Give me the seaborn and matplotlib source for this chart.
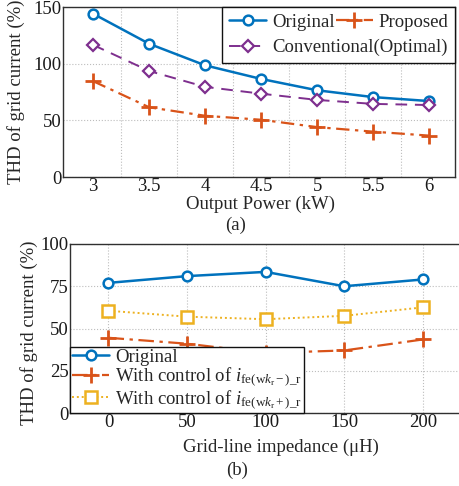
import numpy as np
import pandas as pd
import matplotlib
matplotlib.use("Agg")
import matplotlib.pyplot as plt
import seaborn as sns

# ---- data (a)
power_kw = [3, 3.5, 4, 4.5, 5, 5.5, 6]
thd_original_a = [144, 117.5, 98.5, 86.5, 76.5, 70.5, 67]
thd_conventional = [116.5, 93.5, 79.5, 73.5, 68, 64.5, 63.5]
thd_proposed = [84.5, 61.5, 54, 50.5, 44, 40, 36.5]
ticks_a = [3, 3.5, 4, 4.5, 5, 5.5, 6]
yticks_a = [0, 50, 100, 150]

# ---- data (b)
impedance_uh = [0, 50, 100, 150, 200]
thd_original_b = [77, 81, 83.5, 75, 79]
thd_ctrl_minus = [44.5, 41, 35.5, 37, 43.5]
thd_ctrl_plus = [60.5, 57, 55.5, 57.5, 62.5]
ticks_b = [0, 50, 100, 150, 200]
yticks_b = [0, 25, 50, 75, 100]

sns.set_style("white")
plt.rcParams['font.family'] = ['Liberation Serif', 'DejaVu Serif']
plt.rcParams['mathtext.fontset'] = 'custom'
plt.rcParams['mathtext.rm'] = 'Liberation Serif'
plt.rcParams['mathtext.it'] = 'Liberation Serif:italic'
plt.rcParams['mathtext.bf'] = 'Liberation Serif:bold'

FS = 13.5
BLUE = '#0072BD'
ORANGE = '#D95319'
YELLOW = '#EDB120'
PURPLE = '#7E2F8E'
SPINE = '#303030'
W, H = 459, 486

fig = plt.figure(figsize=(W / 100, H / 100), dpi=100)

def box(l, t, r, b):
    return [l / W, (H - b) / H, (r - l) / W, (b - t) / H]

ax1 = fig.add_axes(box(63, 7, 455, 177))
ax2 = fig.add_axes(box(70, 244, 462, 413))

def style_axes(ax):
    for s in ax.spines.values():
        s.set_color(SPINE)
        s.set_linewidth(1.0)
    ax.tick_params(axis='both', which='both', labelsize=FS, colors='#1a1a1a',
                   direction='in', length=3, width=0.8, pad=1)
    ax.grid(True, which='major', linestyle=':', color='#bdbdbd', linewidth=0.8)
    ax.set_axisbelow(True)

# ---- panel (a)
sns.lineplot(x=power_kw, y=thd_original_a, ax=ax1, color=BLUE, linewidth=1.8,
             marker='o', markersize=7, markerfacecolor='white',
             markeredgecolor=BLUE, markeredgewidth=1.8, label='Original')
sns.lineplot(x=power_kw, y=thd_conventional, ax=ax1, color=PURPLE, linewidth=1.4,
             linestyle=(0, (6, 4)), marker='D', markersize=6, markerfacecolor='white',
             markeredgecolor=PURPLE, markeredgewidth=1.6, label='Conventional(Optimal)')
sns.lineplot(x=power_kw, y=thd_proposed, ax=ax1, color=ORANGE, linewidth=1.6,
             linestyle=(0, (6, 2.5, 1.5, 2.5)), marker='+', markersize=12,
             markeredgecolor=ORANGE, markeredgewidth=2.0, label='Proposed')
ax1.set_xlim(2.73, 6.23)
ax1.set_ylim(0, 150)
style_axes(ax1)
grid_pos = [(ticks_a[i] + ticks_a[i + 1]) / 2 for i in range(len(ticks_a) - 1)]
ax1.set_xticks(grid_pos)
ax1.set_xticklabels([''] * len(grid_pos))
ax1.set_xticks(ticks_a, minor=True)
ax1.set_xticklabels([f'{t:g}' for t in ticks_a], minor=True)
ax1.tick_params(axis='x', which='minor', length=0, pad=1)
ax1.set_yticks(yticks_a)
ax1.set_yticklabels([str(t) for t in yticks_a])
ax1.tick_params(axis='y', length=0)
ax1.set_xlabel('')
ax1.set_ylabel('')

h, l = ax1.get_legend_handles_labels()
order = [0, 1, 2]
leg_kw = dict(ncol=2, loc='upper right', fontsize=FS, frameon=True, fancybox=False,
              edgecolor='#111111', framealpha=1, borderpad=0.35, labelspacing=0.45,
              handlelength=2.0, handletextpad=0.3, borderaxespad=0.0)
leg = ax1.legend([h[i] for i in order], [l[i] for i in order], columnspacing=0.5, **leg_kw)
fig.canvas.draw()
r = fig.canvas.get_renderer()
txts = leg.get_texts()
w_orig = txts[0].get_window_extent(r).width
w_conv = txts[1].get_window_extent(r).width
fs_px = FS * 100 / 72
cs = 0.05 - (w_conv - w_orig) / fs_px
leg.remove()
leg = ax1.legend([h[i] for i in order], [l[i] for i in order], columnspacing=cs, **leg_kw)
leg.get_frame().set_linewidth(1.0)

# ---- panel (b)
sns.lineplot(x=impedance_uh, y=thd_original_b, ax=ax2, color=BLUE, linewidth=1.8,
             marker='o', markersize=7, markerfacecolor='white',
             markeredgecolor=BLUE, markeredgewidth=1.8, label='Original')
sns.lineplot(x=impedance_uh, y=thd_ctrl_minus, ax=ax2, color=ORANGE, linewidth=1.6,
             linestyle=(0, (7, 2.5, 1.5, 2.5)), marker='+', markersize=12,
             markeredgecolor=ORANGE, markeredgewidth=2.0,
             label=r'With control of $i_{\mathrm{fe(w}k_{\mathrm{r}}-)\_\mathrm{r}}$')
sns.lineplot(x=impedance_uh, y=thd_ctrl_plus, ax=ax2, color=YELLOW, linewidth=1.4,
             linestyle=(0, (1, 1.5)), marker='s', markersize=8, markerfacecolor='white',
             markeredgecolor=YELLOW, markeredgewidth=1.8,
             label=r'With control of $i_{\mathrm{fe(w}k_{\mathrm{r}}+)\_\mathrm{r}}$')
ax2.set_xlim(-24.5, 225)
ax2.set_ylim(0, 100)
style_axes(ax2)
ax2.set_xticks(ticks_b)
ax2.set_xticklabels([str(t) for t in ticks_b])
ax2.set_yticks(yticks_b)
ax2.set_yticklabels([str(t) for t in yticks_b])
ax2.tick_params(axis='x', length=3)
ax2.tick_params(axis='y', length=0)
ax2.set_xlabel('')
ax2.set_ylabel('')
leg2 = ax2.legend(loc='lower left', fontsize=FS, frameon=True, fancybox=False,
                  edgecolor='#111111', framealpha=1, borderpad=0.1, labelspacing=0.0,
                  handlelength=2.0, handletextpad=0.3, borderaxespad=0.0)
leg2.get_frame().set_linewidth(1.0)

# ---- labels
fig.text(261 / W, 1 - 204 / H, 'Output Power (kW)', ha='center', va='center', fontsize=FS)
fig.text(236 / W, 1 - 225 / H, '(a)', ha='center', va='center', fontsize=FS)
fig.text(16 / W, 1 - 92 / H, 'THD of grid current (%)', ha='center', va='center',
         rotation=90, fontsize=FS)
fig.text(281 / W, 1 - 447 / H, 'Grid-line impedance (μH)', ha='center', va='center', fontsize=FS)
fig.text(237 / W, 1 - 470 / H, '(b)', ha='center', va='center', fontsize=FS)
fig.text(29 / W, 1 - 333 / H, 'THD of grid current (%)', ha='center', va='center',
         rotation=90, fontsize=FS)

fig.savefig('out.png', dpi=100)
